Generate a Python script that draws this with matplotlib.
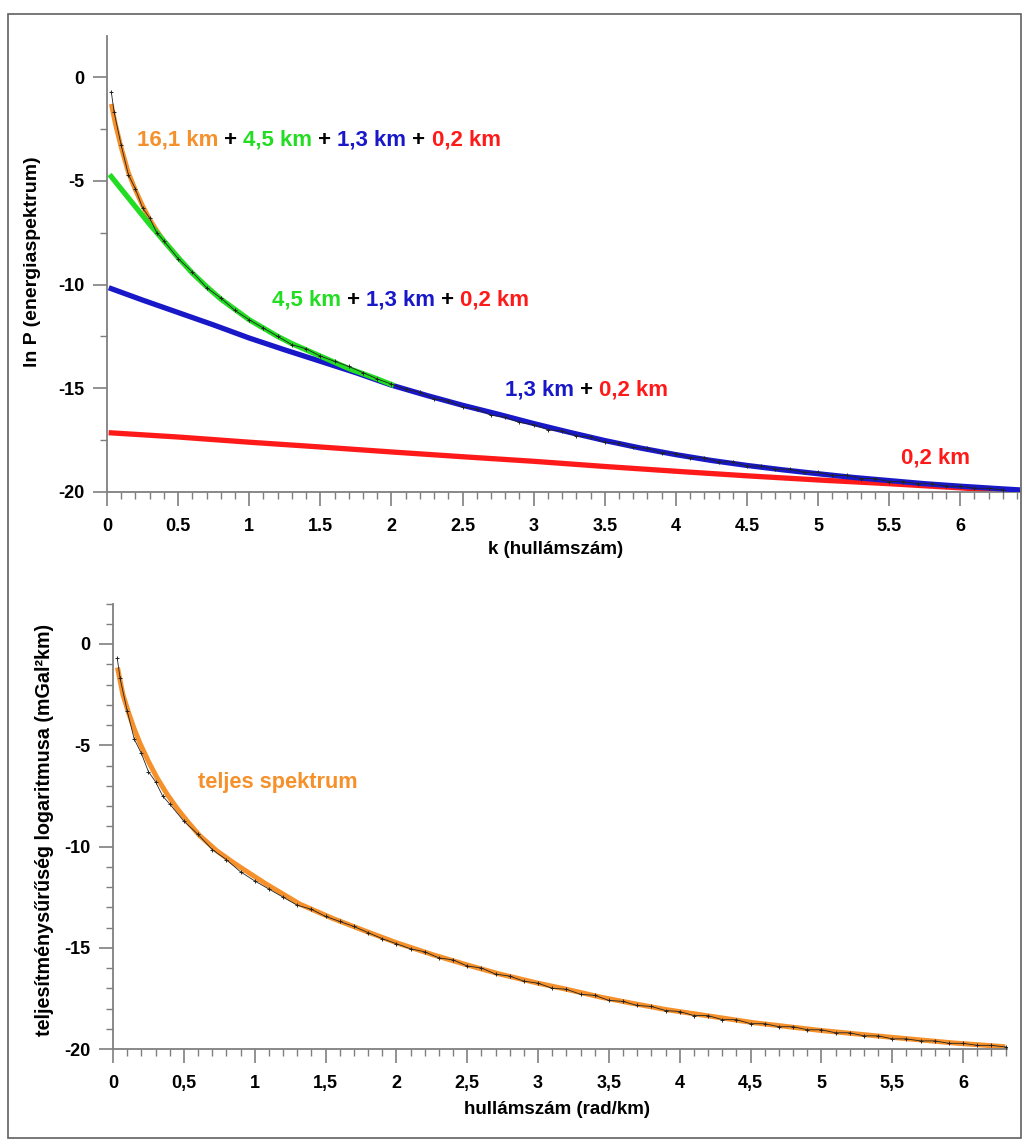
import matplotlib
matplotlib.use("Agg")
import matplotlib.pyplot as plt
from matplotlib.patches import Rectangle
from matplotlib.ticker import MultipleLocator

plt.rcParams['font.family'] = ['Liberation Sans', 'DejaVu Sans']
plt.rcParams['font.weight'] = 'bold'
plt.rcParams['axes.unicode_minus'] = False

k_data = [0.03, 0.05, 0.1, 0.15, 0.2, 0.25, 0.3, 0.35, 0.4, 0.5, 0.6, 0.7, 0.8, 0.9,
          1.0, 1.1, 1.2, 1.3, 1.4, 1.5, 1.6, 1.7, 1.8, 1.9, 2.0, 2.1, 2.2, 2.3, 2.4,
          2.5, 2.6, 2.7, 2.8, 2.9, 3.0, 3.1, 3.2, 3.3, 3.4, 3.5, 3.6, 3.7, 3.8, 3.9,
          4.0, 4.1, 4.2, 4.3, 4.4, 4.5, 4.6, 4.7, 4.8, 4.9, 5.0, 5.1, 5.2, 5.3, 5.4,
          5.5, 5.6, 5.7, 5.8, 5.9, 6.0, 6.1, 6.2, 6.3]
lnp_data = [-0.7, -1.7, -3.3, -4.7, -5.4, -6.3, -6.8, -7.5, -7.9, -8.75, -9.4, -10.15,
            -10.65, -11.25, -11.7, -12.1, -12.5, -12.9, -13.1, -13.45, -13.7, -13.95,
            -14.25, -14.55, -14.8, -15.05, -15.2, -15.5, -15.6, -15.9, -16.0, -16.3,
            -16.4, -16.65, -16.75, -17.0, -17.05, -17.3, -17.35, -17.6, -17.65, -17.85,
            -17.9, -18.1, -18.15, -18.35, -18.35, -18.55, -18.55, -18.75, -18.75,
            -18.9, -18.9, -19.05, -19.05, -19.2, -19.2, -19.35, -19.35, -19.5, -19.5,
            -19.6, -19.6, -19.72, -19.72, -19.82, -19.82, -19.9]

# fitted components (top panel)
orange_k = [0.03, 0.06, 0.1, 0.15, 0.2, 0.25, 0.3, 0.35, 0.4, 0.45, 0.5]
orange_y = [-1.3, -2.3, -3.4, -4.6, -5.45, -6.2, -6.85, -7.4, -7.9, -8.3, -8.7]

green_k = [0.03, 0.1, 0.2, 0.3, 0.4, 0.5, 0.6, 0.7, 0.8, 0.9, 1.0, 1.1, 1.2, 1.3,
           1.4, 1.5, 1.6, 1.7, 1.8, 1.9, 2.0]
green_y = [-4.8, -5.4, -6.25, -7.1, -7.9, -8.7, -9.45, -10.1, -10.7, -11.2, -11.7,
           -12.1, -12.5, -12.85, -13.15, -13.45, -13.75, -14.05, -14.3, -14.55, -14.82]

blue_k = [0.03, 0.25, 0.5, 0.75, 1.0, 1.25, 1.5, 1.75, 2.0, 2.25, 2.5, 2.75, 3.0,
          3.25, 3.5, 3.75, 4.0, 4.25, 4.5, 4.75, 5.0, 5.25, 5.5, 5.75, 6.0, 6.25, 6.42]
blue_y = [-10.2, -10.75, -11.35, -11.95, -12.58, -13.15, -13.7, -14.25, -14.85,
          -15.35, -15.82, -16.25, -16.7, -17.12, -17.52, -17.88, -18.2, -18.48, -18.72,
          -18.93, -19.12, -19.3, -19.45, -19.6, -19.72, -19.83, -19.9]

red_k = [0.03, 0.5, 1.0, 1.5, 2.0, 2.5, 3.0, 3.5, 4.0, 4.5, 5.0, 5.5, 6.0, 6.42]
red_y = [-17.15, -17.35, -17.6, -17.83, -18.07, -18.3, -18.52, -18.77, -19.0,
         -19.22, -19.42, -19.6, -19.8, -20.0]

# full spectrum fit (bottom panel)
spec_k = [0.035, 0.07, 0.11, 0.15, 0.19, 0.25, 0.31, 0.38, 0.45, 0.53, 0.61, 0.73,
          0.85, 0.97, 1.08, 1.2, 1.32, 1.55, 1.79, 2.0, 2.26, 2.5, 2.73, 3.0, 3.2,
          3.45, 3.67, 3.9, 4.14, 4.52, 4.99, 5.46, 5.93, 6.28]
spec_y = [-1.28, -2.5, -3.4, -4.2, -4.9, -5.8, -6.6, -7.4, -8.1, -8.8, -9.45,
          -10.2, -10.8, -11.35, -11.85, -12.35, -12.85, -13.55, -14.2, -14.75, -15.35,
          -15.85, -16.3, -16.75, -17.05, -17.45, -17.75, -18.05, -18.3, -18.7,
          -19.08, -19.4, -19.7, -19.88]

x_major = [0, 0.5, 1, 1.5, 2, 2.5, 3, 3.5, 4, 4.5, 5, 5.5, 6]
x_labels_top = ['0', '0.5', '1', '1.5', '2', '2.5', '3', '3.5', '4', '4.5', '5', '5.5', '6']
x_labels_bot = ['0', '0,5', '1', '1,5', '2', '2,5', '3', '3,5', '4', '4,5', '5', '5,5', '6']
y_major = [-20, -15, -10, -5, 0]

ORANGE = '#f5902a'
GREEN = '#22dd22'
BLUE = '#1818c8'
RED = '#ff1a1a'
AXC = '#7f7f7f'

W, H = 1022, 1142
fig = plt.figure(figsize=(W / 100, H / 100), dpi=100)
fig.patches.append(Rectangle((8 / W, 4 / H), 1 - 9 / W, 1 - 18 / H, transform=fig.transFigure,
                             fill=False, edgecolor='#606060', linewidth=1.2))


def style_axes(ax, xlabels, ymin_step):
    for s in ['top', 'right']:
        ax.spines[s].set_visible(False)
    for s in ['left', 'bottom']:
        ax.spines[s].set_color(AXC)
        ax.spines[s].set_linewidth(1.3)
    ax.set_xticks(x_major)
    ax.set_xticklabels(xlabels)
    ax.set_yticks(y_major)
    ax.xaxis.set_minor_locator(MultipleLocator(0.1))
    ax.yaxis.set_minor_locator(MultipleLocator(ymin_step))
    ax.tick_params(which='major', direction='out', color=AXC, width=1.2, length=10,
                   labelsize=13)
    ax.tick_params(axis='x', which='major', pad=9)
    ax.tick_params(axis='y', which='major', pad=6)
    ax.tick_params(which='minor', direction='out', color=AXC, width=1.0, length=5)
    for lab in ax.get_xticklabels() + ax.get_yticklabels():
        lab.set_fontweight('bold')


def colored_text(ax, x, y, parts, size=16):
    t = ax.text(x, y, parts[0][0], color=parts[0][1], fontsize=size,
                fontweight='bold', va='center', ha='left')
    for s, c in parts[1:]:
        t = ax.annotate(s, xy=(1, 0), xycoords=t, va='bottom', ha='left',
                        color=c, fontsize=size, fontweight='bold')
    return t


# top panel
ax1 = fig.add_axes([107 / W, 1 - 492 / H, 913 / W, 456.5 / H])
ax1.set_xlim(0, 6.42)
ax1.set_ylim(-20, 2)
style_axes(ax1, x_labels_top, 2.5)
ax1.plot(orange_k, orange_y, color=ORANGE, lw=3.4, solid_capstyle='butt', zorder=2)
ax1.plot(red_k, red_y, color=RED, lw=3.8, zorder=2)
ax1.plot(blue_k, blue_y, color=BLUE, lw=3.8, zorder=3)
ax1.plot(green_k, green_y, color=GREEN, lw=3.8, zorder=4)
ax1.plot(k_data, lnp_data, color='#222222', lw=0.6, marker='+', ms=3.5, mew=0.7, zorder=5)

colored_text(ax1, 0.21, -3.05, [('16,1 km', ORANGE), (' + ', 'black'), ('4,5 km', GREEN),
                                (' + ', 'black'), ('1,3 km', BLUE), (' + ', 'black'),
                                ('0,2 km', RED)])
colored_text(ax1, 1.16, -10.75, [('4,5 km', GREEN), (' + ', 'black'), ('1,3 km', BLUE),
                                 (' + ', 'black'), ('0,2 km', RED)])
colored_text(ax1, 2.80, -15.1, [('1,3 km', BLUE), (' + ', 'black'), ('0,2 km', RED)])
colored_text(ax1, 5.58, -18.35, [('0,2 km', RED)])

fig.text(33 / W, 1 - 262 / H, 'ln P (energiaspektrum)', rotation=90, ha='center',
         va='center', fontsize=14, fontweight='bold')
fig.text(556 / W, 1 - 549 / H, 'k (hullámszám)', ha='center', va='center',
         fontsize=13.5, fontweight='bold')

# bottom panel
ax2 = fig.add_axes([113 / W, 1 - 1049 / H, 894 / W, 445.5 / H])
ax2.set_xlim(0, 6.31)
ax2.set_ylim(-20, 2)
style_axes(ax2, x_labels_bot, 1)
ax2.plot(spec_k, spec_y, color=ORANGE, lw=3.6, zorder=2)
ax2.plot(k_data, lnp_data, color='#222222', lw=0.6, marker='+', ms=3.5, mew=0.7, zorder=5)
ax2.text(0.6, -6.86, 'teljes spektrum', color=ORANGE, fontsize=15.7, fontweight='bold',
         va='center', ha='left')

fig.text(45 / W, 1 - 830 / H, 'teljesítménysűrűség logaritmusa (mGal²km)', rotation=90,
         ha='center', va='center', fontsize=14.2, fontweight='bold')
fig.text(557 / W, 1 - 1110 / H, 'hullámszám (rad/km)', ha='center', va='center',
         fontsize=13.5, fontweight='bold')

fig.savefig('out.png', dpi=100)
